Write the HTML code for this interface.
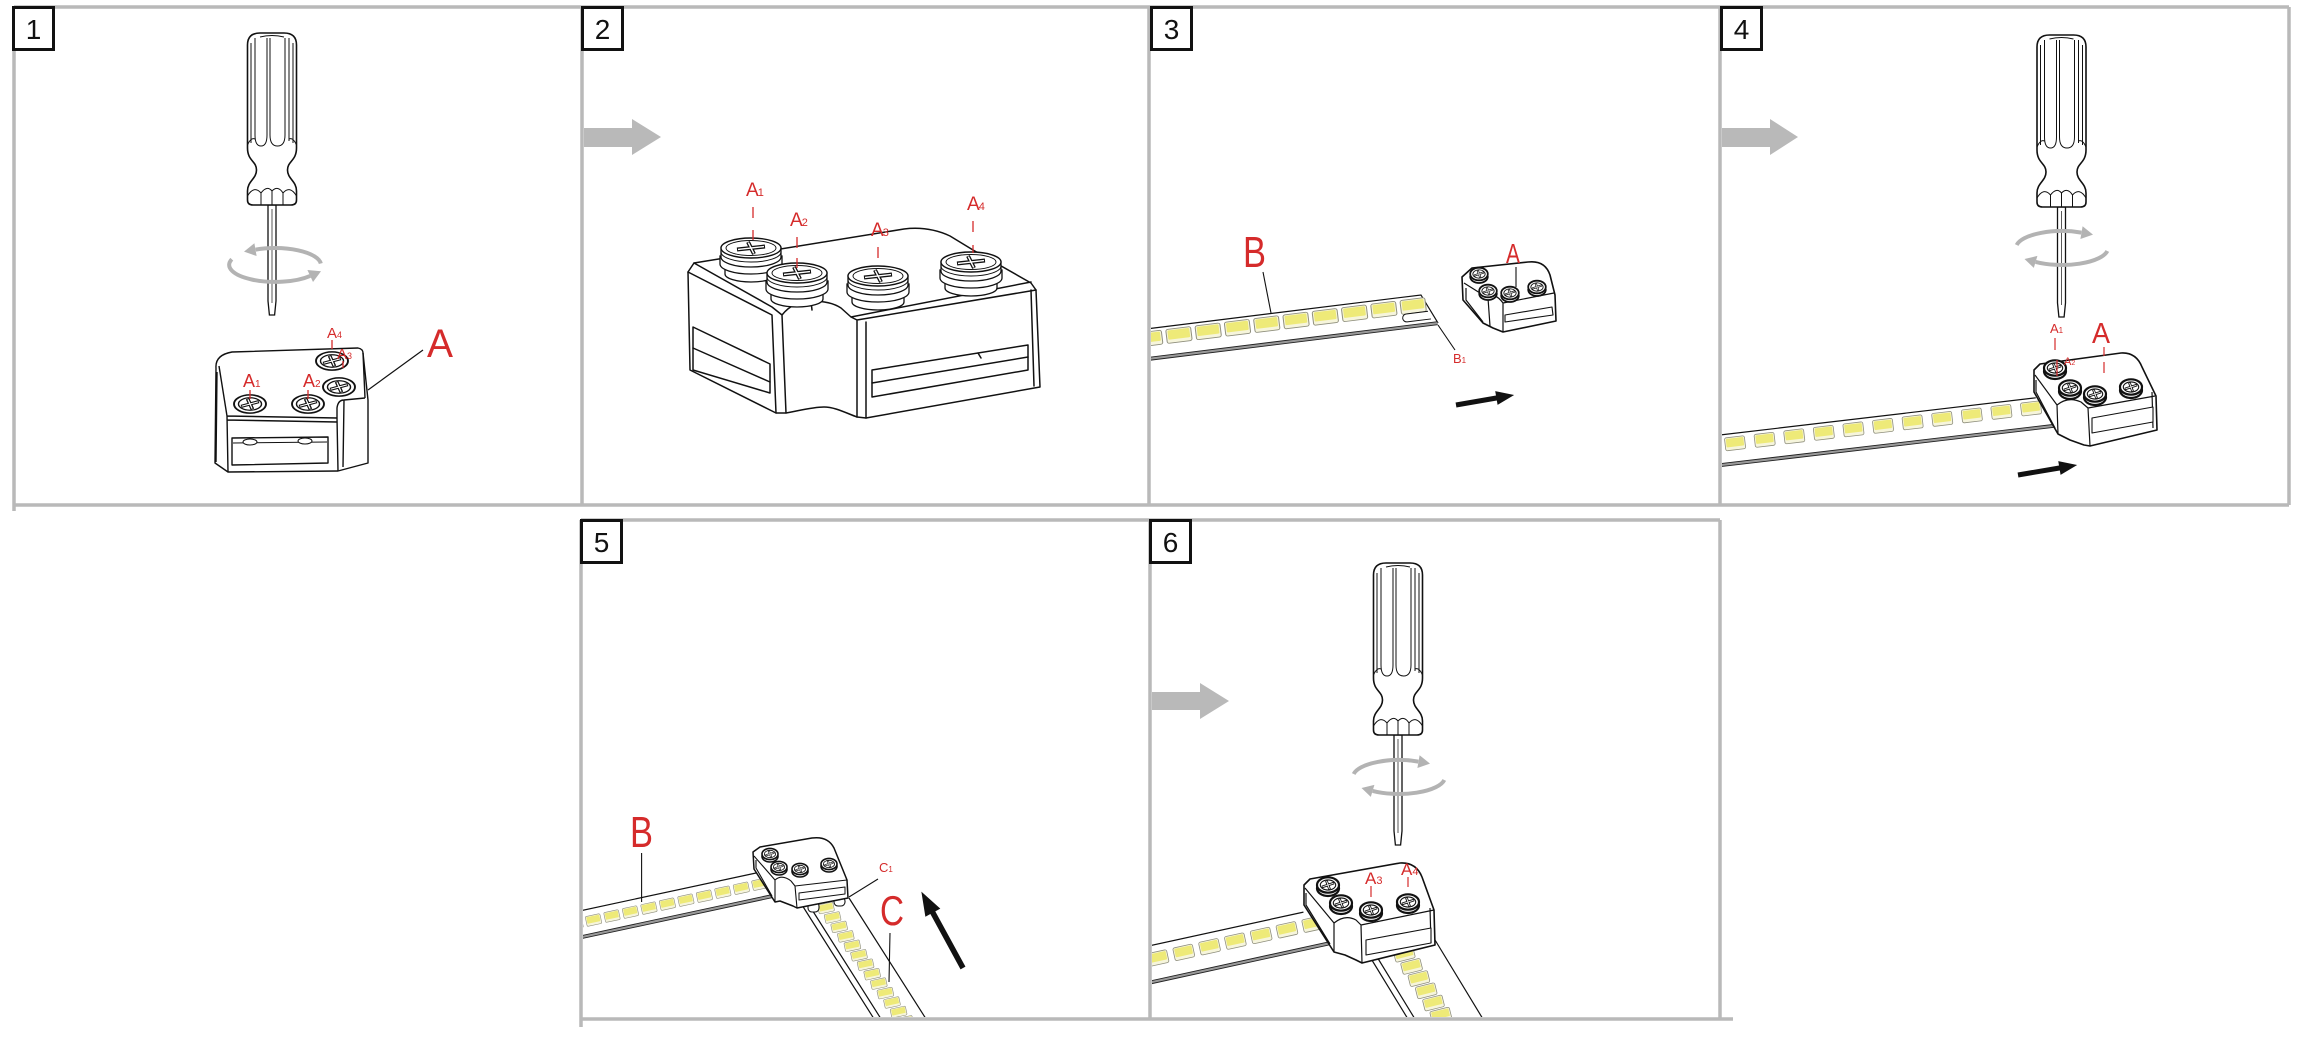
<!DOCTYPE html>
<html><head><meta charset="utf-8"><style>
html,body{margin:0;padding:0;background:#fff;}
svg{display:block;}
text{font-family:"Liberation Sans",Arial,sans-serif;}
</style></head><body>
<svg width="2304" height="1040" viewBox="0 0 2304 1040" xmlns="http://www.w3.org/2000/svg">
<defs>
<clipPath id="c3"><rect x="1151" y="9" width="567" height="494"/></clipPath>
<clipPath id="c4"><rect x="1722" y="9" width="565" height="494"/></clipPath>
<clipPath id="c5"><rect x="583" y="522" width="565" height="495"/></clipPath>
<clipPath id="c6"><rect x="1152" y="522" width="566" height="495"/></clipPath>
<g id="sd">
<path d="M-4,172 L-4,268 L-2.6,282 L2.6,282 L4,268 L4,172 Z" fill="#fff" stroke="#111" stroke-width="1.3"/>
<path d="M-24.5,12 Q-24.5,0 -12,0 L12,0 Q24.5,0 24.5,12 L24.5,115 C24.5,128 15.5,128 15.5,137 C15.5,146 24.5,148 24.5,158 L24.5,167 Q24.5,172 19,172 L-19,172 Q-24.5,172 -24.5,167 L-24.5,158 C-24.5,148 -15.5,146 -15.5,137 C-15.5,128 -24.5,128 -24.5,115 Z" fill="#fff" stroke="#111" stroke-width="1.6"/>
<path d="M-21,10 L-21,110 M21,10 L21,110 M-17,5 L-17,102 Q-17,113 -11,113 Q-5,113 -5,102 L-5,5 M-2,5 L-2,102 Q-2,113 5.5,113 Q13,113 13,102 L13,5 M17,5 L17,108 M-24.5,112 Q-21,104 -17,106 M24.5,112 Q21,104 17,106 M-24.5,163 Q-18,152 -11,160 Q-5,152 0,158 Q6,152 11,160 Q18,152 24.5,163 M-11,160 L-11,172 M11,160 L11,172 M0,158 L0,172 M-12,4 Q0,1 12,4" fill="none" stroke="#111" stroke-width="1"/>
<path d="M0,176 L0,270" stroke="#111" stroke-width="0.7"/>
</g>
<g id="rcw" fill="none" stroke="#b3b3b3" stroke-width="4">
<path d="M45.8,-1.5 A46 17 0 0 0 -19.4,-15.4"/>
<path d="M-43.2,-5.8 A46 17 0 0 0 35.2,10.9"/>
<polygon points="-31,-13.4 -18.4,-9 -20.6,-21.8" fill="#b3b3b3" stroke="none"/>
<polygon points="46,6.2 38,17 32.4,5" fill="#b3b3b3" stroke="none"/>
</g>
<g id="rccw" fill="none" stroke="#b3b3b3" stroke-width="4">
<path d="M-45.3,-3 A46 17 0 0 1 19.4,-15.4"/>
<path d="M45.3,3 A46 17 0 0 1 -26.4,13.9"/>
<polygon points="31,-13.4 18.4,-9 20.6,-21.8" fill="#b3b3b3" stroke="none"/>
<polygon points="-37.5,11 -24.6,7.9 -28.2,19.9" fill="#b3b3b3" stroke="none"/>
</g>
<g id="sc">
<ellipse rx="10" ry="7" fill="#fff" stroke="#111" stroke-width="1.2"/>
<ellipse rx="7.2" ry="4.8" fill="none" stroke="#111" stroke-width="0.9"/>
<path d="M-5.5,1.8 L5.5,-1.8 M-1.5,-4 L1.5,4" stroke="#111" stroke-width="2.4" fill="none"/>
<path d="M-5,1.6 L5,-1.6 M-1.3,-3.6 L1.3,3.6" stroke="#fff" stroke-width="0.8" fill="none"/>
</g>
<g id="sc3">
<ellipse cy="3" rx="10" ry="7" fill="#fff" stroke="#111" stroke-width="2"/>
<ellipse rx="10" ry="7" fill="#fff" stroke="#111" stroke-width="2"/>
<ellipse rx="7" ry="4.6" fill="none" stroke="#111" stroke-width="1"/>
<path d="M-5.5,1.8 L5.5,-1.8 M-1.5,-4 L1.5,4" stroke="#111" stroke-width="2.4" fill="none"/>
<path d="M-5,1.6 L5,-1.6 M-1.3,-3.6 L1.3,3.6" stroke="#fff" stroke-width="0.8" fill="none"/>
</g>
<g id="sc2">
<path d="M-26,14 L-26,26 A26 8 0 0 0 26,26 L26,14 Z" fill="#fff" stroke="#111" stroke-width="1.3"/>
<path d="M-31,8 L-31,16 A31 10 0 0 0 31,16 L31,8 Z" fill="#fff" stroke="#111" stroke-width="1.3"/>
<path d="M-30,0 L-30,9 A30 10 0 0 0 30,9 L30,0 Z" fill="#fff" stroke="#111" stroke-width="1.3"/>
<path d="M-30,4 A30 10 0 0 0 30,4" fill="none" stroke="#111" stroke-width="1"/>
<ellipse rx="30" ry="10" fill="#fff" stroke="#111" stroke-width="1.4"/>
<ellipse rx="25" ry="7.5" fill="none" stroke="#111" stroke-width="0.9"/>
<path d="M-14,1.5 L14,-1.5 M-3,-6 L3,6" stroke="#111" stroke-width="4" fill="none"/>
<path d="M-13,1.4 L13,-1.4 M-2.7,-5.4 L2.7,5.4" stroke="#fff" stroke-width="1.4" fill="none"/>
</g>
<g id="led">
<rect x="-10" y="-6.5" width="20" height="13" rx="1.8" fill="#f6f5dc" stroke="#8f8f7d" stroke-width="0.8"/>
<rect x="-8.8" y="-5.4" width="17.6" height="8.6" rx="1" fill="#eeea78"/>
</g>
</defs>
<rect width="2304" height="1040" fill="#fff"/>

<!-- frames -->
<g stroke="#b9b9b9" stroke-width="3.5" fill="none">
<path d="M14,7 L2289,7 M14,505 L2289,505 M14,7 L14,511 M582,7 L582,505 M1149,7 L1149,505 M1720,7 L1720,505 M2289,7 L2289,505"/>
<path d="M581,520 L1720,520 M581,1019 L1733,1019 M581,520 L581,1027 M1150,520 L1150,1019 M1720,520 L1720,1019"/>
</g>

<!-- number boxes -->
<g fill="#fff" stroke="#111" stroke-width="3">
<rect x="13.5" y="7.5" width="40" height="42"/>
<rect x="582.5" y="7.5" width="40" height="42"/>
<rect x="1151.5" y="7.5" width="40" height="42"/>
<rect x="1721.5" y="7.5" width="40" height="42"/>
<rect x="581.5" y="520.5" width="40" height="42"/>
<rect x="1150.5" y="520.5" width="40" height="42"/>
</g>
<g font-size="28" fill="#111" text-anchor="middle">
<text x="33.5" y="39">1</text>
<text x="602.5" y="39">2</text>
<text x="1171.5" y="39">3</text>
<text x="1741.5" y="39">4</text>
<text x="601.5" y="552">5</text>
<text x="1170.5" y="552">6</text>
</g>

<!-- gray step arrows -->
<g fill="#b9b9b9">
<polygon points="584,128 632,128 632,119 661,137 632,155 632,147 584,147"/>
<polygon points="1722,128 1770,128 1770,119 1798,137 1770,155 1770,147 1722,147"/>
<polygon points="1152,692 1200,692 1200,683 1229,701 1200,719 1200,710 1152,710"/>
</g>

<!-- ============ PANEL 1 ============ -->
<use href="#sd" transform="translate(272,33)"/>
<use href="#rcw" transform="translate(275,265)"/>
<g stroke="#111" stroke-width="1.4" fill="#fff" stroke-linejoin="round">
<path d="M216,368 Q215,355 232,352 L358,348 Q363,349 363,353 L368,400 L368,463 L338,471 L228,472 L215,463 Z"/>
<path fill="none" d="M219,366 L227,416 L337,418 M227,420 L337,422 M227,416 L228,472 M337,418 L338,471 M337,418 L337,408 Q338,400 344,400 L365,398 M344,400 L343,467 M363,353 L365,398 M217,372 L216,462"/>
<path d="M232,438 L328,437 L328,463 L232,465 Z"/>
<path fill="none" d="M233,443 L327,442" stroke-width="1"/>
<ellipse cx="250" cy="442" rx="7" ry="3" stroke-width="1"/>
<ellipse cx="305" cy="441" rx="7" ry="3" stroke-width="1"/>
</g>
<use href="#sc" transform="translate(332,361) scale(1.6,1.3)"/>
<use href="#sc" transform="translate(339,387) scale(1.6,1.3)"/>
<use href="#sc" transform="translate(250,404) scale(1.6,1.3)"/>
<use href="#sc" transform="translate(308,404) scale(1.6,1.3)"/>
<g fill="#d52b2b">
<text x="243" y="387" font-size="18">A<tspan font-size="10">1</tspan></text>
<text x="303" y="387" font-size="18">A<tspan font-size="10">2</tspan></text>
<text x="327" y="338" font-size="15">A<tspan font-size="9">4</tspan></text>
<text x="337" y="359" font-size="15">A<tspan font-size="9">3</tspan></text>
<text x="427" y="357" font-size="40" textLength="26" lengthAdjust="spacingAndGlyphs">A</text>
</g>
<path d="M250,390 V399 M308,390 V399 M332,340 V349 M343,361 V368" stroke="#d52b2b" stroke-width="1.3"/>
<path d="M423,350 L368,390" stroke="#111" stroke-width="1.2"/>

<!-- ============ PANEL 2 ============ -->
<g stroke="#111" stroke-width="1.5" fill="#fff" stroke-linejoin="round" stroke-linecap="round">
<path d="M694,263 L904,229 C920,227 935,229 950,236 L973,250 L1031,283 L1036,290 L1040,387 L866,418 L857,417 C846,413 835,407 824,407 C812,407 798,411 786,413 L776,413 L690,370 L688,272 Z"/>
<path fill="none" d="M694,263 L772,307 L782,315 M688,272 L772,315 L776,413 M782,315 L786,413 M782,315 C790,305 800,301 811,301 C825,301 835,304 841,308 L851,317 L1031,282 M851,317 L857,320 L1036,290 M857,320 L857,417 M866,322 L866,418 M1031,290 L1034,386 M811,301 L812,310"/>
<path d="M693,327 L770,364 L770,393 L693,370 Z"/>
<path fill="none" d="M693,348 L770,382"/>
<path d="M872,370 L1028,345 L1028,370 L872,397 Z"/>
<path fill="none" d="M872,383 L1028,357 M978,353 L981,358"/>
</g>
<use href="#sc2" transform="translate(751,248)"/>
<use href="#sc2" transform="translate(971,262)"/>
<use href="#sc2" transform="translate(797,273)"/>
<use href="#sc2" transform="translate(878,276)"/>
<g fill="#d52b2b" font-size="19">
<text x="746" y="196">A<tspan font-size="11" dx="-1">1</tspan></text>
<text x="790" y="226">A<tspan font-size="11" dx="-1">2</tspan></text>
<text x="871" y="236">A<tspan font-size="11" dx="-1">3</tspan></text>
<text x="967" y="210">A<tspan font-size="11" dx="-1">4</tspan></text>
</g>
<path d="M753,207 V218 M753,230 V240 M797,237 V248 M797,258 V268 M878,247 V258 M973,221 V232 M973,245 V253" stroke="#d52b2b" stroke-width="1.3"/>

<!-- ============ PANEL 3 ============ -->
<g clip-path="url(#c3)">
<g transform="translate(1154,328) rotate(-7.05)">
<path d="M-20,0 L269,0 L282.5,30 L-20,30 Z" fill="#fff"/>
<path d="M-20,0 L269,0 L282.5,30" fill="none" stroke="#111" stroke-width="1.2"/>
<rect x="-20" y="28.5" width="302" height="3" fill="#9a9a9a"/>
<path d="M-20,28.5 L282,28.5 M-20,31.5 L282,31.5" stroke="#222" stroke-width="0.9"/>
<use href="#led" transform="translate(-5.6,10) scale(1.25,1.08)"/>
<use href="#led" transform="translate(23.9,10) scale(1.25,1.08)"/>
<use href="#led" transform="translate(53.4,10) scale(1.25,1.08)"/>
<use href="#led" transform="translate(82.9,10) scale(1.25,1.08)"/>
<use href="#led" transform="translate(112.4,10) scale(1.25,1.08)"/>
<use href="#led" transform="translate(141.9,10) scale(1.25,1.08)"/>
<use href="#led" transform="translate(171.4,10) scale(1.25,1.08)"/>
<use href="#led" transform="translate(200.9,10) scale(1.25,1.08)"/>
<use href="#led" transform="translate(230.4,10) scale(1.25,1.08)"/>
<use href="#led" transform="translate(259.9,10) scale(1.25,1.08)"/>
<path d="M274,17 L252,17 A4 4 0 0 0 252,25 L276,25" fill="#fff" stroke="#111" stroke-width="1"/>
</g>
</g>
<g stroke="#111" stroke-width="1.6" fill="#fff" stroke-linejoin="round">
<path d="M1462,277 L1472,268 L1528,262 Q1545,260 1550,275 L1555,295 L1556,321 L1503,332 L1493,328 L1483,323 L1463,300 Z"/>
<path fill="none" stroke-width="1.2" d="M1464,283 L1488,298 Q1495,292 1503,303 L1554,293 M1503,303 L1503,332 M1488,298 L1490,326 M1466,288 L1466,300 L1483,322"/>
<path stroke-width="1.1" d="M1505,315 L1552,307 L1553,315 L1505,322 Z"/>
</g>
<use href="#sc3" transform="translate(1479,274) scale(0.88,0.9)"/>
<use href="#sc3" transform="translate(1537,287) scale(0.88,0.9)"/>
<use href="#sc3" transform="translate(1488,291) scale(0.88,0.9)"/>
<use href="#sc3" transform="translate(1510,293) scale(0.88,0.9)"/>
<g fill="#d52b2b">
<text x="1243" y="267" font-size="44" textLength="23" lengthAdjust="spacingAndGlyphs">B</text>
<text x="1506" y="263" font-size="28" textLength="14" lengthAdjust="spacingAndGlyphs">A</text>
<text x="1453" y="363" font-size="13">B<tspan font-size="8">1</tspan></text>
</g>
<path d="M1263,272 L1271,313 M1438,325 L1455,350 M1516,267 L1516,287" stroke="#111" stroke-width="1.1"/>
<g transform="translate(1456,405) rotate(-9.8)"><polygon points="0,-2.5 41,-2.5 41,-7 59,0 41,7 41,2.5 0,2.5" fill="#111"/></g>

<!-- ============ PANEL 4 ============ -->
<g clip-path="url(#c4)">
<g transform="translate(1720,435) rotate(-6.72)">
<path d="M-20,0 L318,0 L340,32 L-20,32 Z" fill="#fff"/>
<path d="M-20,0 L318,0" fill="none" stroke="#111" stroke-width="1.2"/>
<rect x="-20" y="28.5" width="358" height="3" fill="#9a9a9a"/>
<path d="M-20,28.5 L338,28.5 M-20,31.5 L338,31.5" stroke="#222" stroke-width="0.9"/>
<use href="#led" transform="translate(-15.8,10)"/>
<use href="#led" transform="translate(14,10)"/>
<use href="#led" transform="translate(43.8,10)"/>
<use href="#led" transform="translate(73.6,10)"/>
<use href="#led" transform="translate(103.4,10)"/>
<use href="#led" transform="translate(133.2,10)"/>
<use href="#led" transform="translate(163,10)"/>
<use href="#led" transform="translate(192.8,10)"/>
<use href="#led" transform="translate(222.6,10)"/>
<use href="#led" transform="translate(252.4,10)"/>
<use href="#led" transform="translate(282.2,10)"/>
<use href="#led" transform="translate(312,10)"/>
</g>
</g>
<use href="#sd" transform="translate(2061.5,35)"/>
<use href="#rccw" transform="translate(2062,248)"/>
<g stroke="#111" stroke-width="1.6" fill="#fff" stroke-linejoin="round">
<path d="M2034,370 L2040,364 L2121,353 Q2136,352 2142,367 L2156,396 L2157,430 L2090,446 L2084,445 L2070,440 L2058,434 L2034,392 Z"/>
<path fill="none" stroke-width="1.2" d="M2035,375 L2057,405 Q2068,396 2081,402 L2088,408 L2155,396 M2088,408 L2090,446 M2057,405 L2058,434 M2036,380 L2036,392 L2055,428 M2152,392 L2153,428"/>
<path stroke-width="1.1" d="M2092,418 L2153,407 L2153,422 L2092,433 Z"/>
</g>
<use href="#sc3" transform="translate(2055,368) scale(1.1,1.1)"/>
<use href="#sc3" transform="translate(2131,387) scale(1.1,1.1)"/>
<use href="#sc3" transform="translate(2070,388) scale(1.1,1.1)"/>
<use href="#sc3" transform="translate(2095,394) scale(1.1,1.1)"/>
<g fill="#d52b2b">
<text x="2050" y="333" font-size="13">A<tspan font-size="8">1</tspan></text>
<text x="2092" y="343" font-size="29" textLength="18" lengthAdjust="spacingAndGlyphs">A</text>
<text x="2064" y="365" font-size="11">A<tspan font-size="7">2</tspan></text>
</g>
<path d="M2055,338 V350 M2104,347 V356 M2104,362 V373 M2057,360 V376" stroke="#d52b2b" stroke-width="1.2"/>
<g transform="translate(2018,475) rotate(-9.6)"><polygon points="0,-2.5 42,-2.5 42,-7 60,0 42,7 42,2.5 0,2.5" fill="#111"/></g>

<!-- ============ PANEL 5 ============ -->
<g clip-path="url(#c5)">
<path d="M802,905 L849,898 L928,1025 L874,1025 Z" fill="#fff" stroke="none"/>
<path d="M802,905 L876,1022 M809,905 L883,1022 M849,898 L928,1022" stroke="#111" stroke-width="1.2" fill="none"/>
<g>
<use href="#led" transform="translate(826,908) rotate(-12) scale(0.78,0.7)"/>
<use href="#led" transform="translate(832.6,917.5) rotate(-12) scale(0.78,0.7)"/>
<use href="#led" transform="translate(839.2,926.9) rotate(-12) scale(0.78,0.7)"/>
<use href="#led" transform="translate(845.8,936.4) rotate(-12) scale(0.78,0.7)"/>
<use href="#led" transform="translate(852.4,945.8) rotate(-12) scale(0.78,0.7)"/>
<use href="#led" transform="translate(859,955.3) rotate(-12) scale(0.78,0.7)"/>
<use href="#led" transform="translate(865.6,964.7) rotate(-12) scale(0.78,0.7)"/>
<use href="#led" transform="translate(872.2,974.2) rotate(-12) scale(0.78,0.7)"/>
<use href="#led" transform="translate(878.8,983.6) rotate(-12) scale(0.78,0.7)"/>
<use href="#led" transform="translate(885.4,993.1) rotate(-12) scale(0.78,0.7)"/>
<use href="#led" transform="translate(892,1002.5) rotate(-12) scale(0.78,0.7)"/>
<use href="#led" transform="translate(898.6,1012) rotate(-12) scale(0.78,0.7)"/>
<use href="#led" transform="translate(905.2,1021.4) rotate(-12) scale(0.78,0.7)"/>
</g>
<g transform="translate(584,910) rotate(-12.14)">
<path d="M-20,0 L176,0 L195,27 L-20,27 Z" fill="#fff"/>
<path d="M-20,0 L176,0" fill="none" stroke="#111" stroke-width="1.2"/>
<rect x="-20" y="24.5" width="212" height="3" fill="#9a9a9a"/>
<path d="M-20,24.5 L192,24.5 M-20,27.5 L192,27.5" stroke="#222" stroke-width="0.9"/>
<use href="#led" transform="translate(-11.7,11.8) scale(0.75,0.77)"/>
<use href="#led" transform="translate(7.2,11.8) scale(0.75,0.77)"/>
<use href="#led" transform="translate(26.1,11.8) scale(0.75,0.77)"/>
<use href="#led" transform="translate(45,11.8) scale(0.75,0.77)"/>
<use href="#led" transform="translate(63.9,11.8) scale(0.75,0.77)"/>
<use href="#led" transform="translate(82.8,11.8) scale(0.75,0.77)"/>
<use href="#led" transform="translate(101.7,11.8) scale(0.75,0.77)"/>
<use href="#led" transform="translate(120.6,11.8) scale(0.75,0.77)"/>
<use href="#led" transform="translate(139.5,11.8) scale(0.75,0.77)"/>
<use href="#led" transform="translate(158.4,11.8) scale(0.75,0.77)"/>
<use href="#led" transform="translate(177.3,11.8) scale(0.75,0.77)"/>
</g>
</g>
<g stroke="#111" stroke-width="1.1" fill="#fff">
<rect x="808" y="902" width="11" height="10" rx="4"/>
<rect x="834" y="897" width="11" height="9" rx="4"/>
</g>
<g stroke="#111" stroke-width="1.5" fill="#fff" stroke-linejoin="round">
<path d="M753,852 L760,847 L812,838 Q828,836 834,848 L847,880 L848,898 L797,908 L793,906 L780,901 L775,902 L754,869 Z"/>
<path fill="none" stroke-width="1.1" d="M754,856 L775,880 Q782,874 791,881 L795,886 L847,880 M795,886 L797,908 M775,880 L775,902 M756,860 L756,868 L772,896"/>
<path stroke-width="1" d="M799,893 L845,887 L845,894 L799,900 Z"/>
</g>
<use href="#sc3" transform="translate(770,854) scale(0.8,0.8)"/>
<use href="#sc3" transform="translate(829,864) scale(0.8,0.8)"/>
<use href="#sc3" transform="translate(779,867) scale(0.8,0.8)"/>
<use href="#sc3" transform="translate(800,869) scale(0.8,0.8)"/>
<g fill="#d52b2b">
<text x="630" y="847" font-size="44" textLength="23" lengthAdjust="spacingAndGlyphs">B</text>
<text x="879" y="872" font-size="13">C<tspan font-size="8">1</tspan></text>
<text x="880" y="925" font-size="42" textLength="24" lengthAdjust="spacingAndGlyphs">C</text>
</g>
<path d="M641.6,853 L641.6,902 M878,879 L849,897 M890,933 L889,982" stroke="#111" stroke-width="1.1"/>
<g transform="translate(963,968) rotate(-118.6)"><polygon points="0,-2.8 63,-2.8 63,-8.5 87,0 63,8.5 63,2.8 0,2.8" fill="#111"/></g>

<!-- ============ PANEL 6 ============ -->
<g clip-path="url(#c6)">
<path d="M1367,952 L1432,935 L1488,1025 L1408,1025 Z" fill="#fff" stroke="none"/>
<path d="M1367,952 L1411,1024 M1374,952 L1418,1024 M1432,935 L1486,1024" stroke="#111" stroke-width="1.2" fill="none"/>
<use href="#led" transform="translate(1397,942) rotate(-14) scale(1,0.92)"/>
<use href="#led" transform="translate(1404.3,954.2) rotate(-14) scale(1,0.92)"/>
<use href="#led" transform="translate(1411.6,966.4) rotate(-14) scale(1,0.92)"/>
<use href="#led" transform="translate(1418.9,978.6) rotate(-14) scale(1,0.92)"/>
<use href="#led" transform="translate(1426.2,990.8) rotate(-14) scale(1,0.92)"/>
<use href="#led" transform="translate(1433.5,1003) rotate(-14) scale(1,0.92)"/>
<use href="#led" transform="translate(1440.8,1015.2) rotate(-14) scale(1,0.92)"/>
<use href="#led" transform="translate(1448,1027) rotate(-14) scale(1,0.92)"/>
<g transform="translate(1153,945) rotate(-12.33)">
<path d="M-20,0 L154,0 L175,37 L-20,37 Z" fill="#fff"/>
<path d="M-20,0 L154,0" fill="none" stroke="#111" stroke-width="1.2"/>
<rect x="-20" y="34.5" width="195" height="3" fill="#9a9a9a"/>
<path d="M-20,34.5 L175,34.5 M-20,37.5 L175,37.5" stroke="#222" stroke-width="0.9"/>
<use href="#led" transform="translate(-24.3,13.8)"/>
<use href="#led" transform="translate(2.1,13.8)"/>
<use href="#led" transform="translate(28.5,13.8)"/>
<use href="#led" transform="translate(54.9,13.8)"/>
<use href="#led" transform="translate(81.3,13.8)"/>
<use href="#led" transform="translate(107.7,13.8)"/>
<use href="#led" transform="translate(134.1,13.8)"/>
<use href="#led" transform="translate(160.5,13.8)"/>
</g>
</g>
<g stroke="#111" stroke-width="1.1" fill="#fff">
<rect x="1369" y="940" width="14" height="11" rx="5"/>
<rect x="1410" y="933" width="13" height="10" rx="5"/>
</g>
<use href="#sd" transform="translate(1398,563)"/>
<use href="#rccw" transform="translate(1399,777)"/>
<g stroke="#111" stroke-width="1.6" fill="#fff" stroke-linejoin="round">
<path d="M1304,885 L1310,879 L1400,863 Q1416,862 1422,877 L1434,910 L1435,945 L1362,963 L1356,960 L1345,955 L1334,952 L1304,905 Z"/>
<path fill="none" stroke-width="1.2" d="M1305,888 L1334,923 Q1345,914 1356,920 L1361,925 L1434,910 M1361,925 L1362,963 M1334,923 L1334,952 M1306,893 L1306,905 L1330,944 M1430,908 L1431,943"/>
<path stroke-width="1.1" d="M1366,940 L1431,928 L1431,943 L1366,955 Z"/>
</g>
<use href="#sc3" transform="translate(1328,885) scale(1.1,1.1)"/>
<use href="#sc3" transform="translate(1408,902) scale(1.1,1.1)"/>
<use href="#sc3" transform="translate(1341,903) scale(1.1,1.1)"/>
<use href="#sc3" transform="translate(1371,910) scale(1.1,1.1)"/>
<g fill="#d52b2b">
<text x="1365" y="884" font-size="17">A<tspan font-size="11">3</tspan></text>
<text x="1401" y="875" font-size="17">A<tspan font-size="11">4</tspan></text>
</g>
<path d="M1371,886 V897 M1408,877 V887" stroke="#d52b2b" stroke-width="1.2"/>

</svg>
</body></html>
